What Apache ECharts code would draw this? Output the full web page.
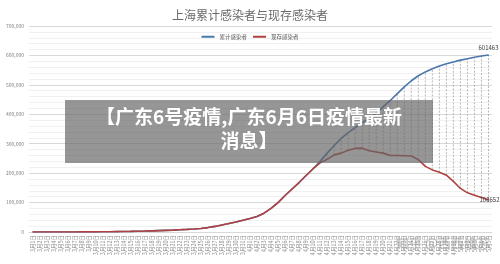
<!DOCTYPE html>
<html>
<head>
<meta charset="utf-8">
<script src="https://cdn.jsdelivr.net/npm/echarts@6/dist/echarts.min.js"></script>
<style>html,body{margin:0;padding:0;background:#fff}#c{width:500px;height:264px}</style>
</head>
<body>
<div id="c"></div>
<script>
// categories: 3月1日 .. 5月5日
const categories = [
  '3月1日','3月2日','3月3日','3月4日','3月5日','3月6日','3月7日','3月8日','3月9日','3月10日',
  '3月11日','3月12日','3月13日','3月14日','3月15日','3月16日','3月17日','3月18日','3月19日','3月20日',
  '3月21日','3月22日','3月23日','3月24日','3月25日','3月26日','3月27日','3月28日','3月29日','3月30日',
  '3月31日','4月1日','4月2日','4月3日','4月4日','4月5日','4月6日','4月7日','4月8日','4月9日',
  '4月10日','4月11日','4月12日','4月13日','4月14日','4月15日','4月16日','4月17日','4月18日','4月19日',
  '4月20日','4月21日','4月22日','4月23日','4月24日','4月25日','4月26日','4月27日','4月28日','4月29日',
  '4月30日','5月1日','5月2日','5月3日','5月4日','5月5日'
];
const cumulative = [
  0,0,0,0,0,100,200,300,400,500,
  700,900,1200,1600,2000,2600,3200,3900,4700,5600,
  6500,7600,8800,10200,12000,15000,19000,24000,29000,34000,
  40000,46000,53000,64000,80000,100000,124000,146000,168000,192000,
  215000,240000,268000,294000,318000,338000,355000,371000,387000,404000,
  426000,447000,470000,493000,514000,531000,544000,555000,564000,572000,
  578000,584000,589000,594000,598000,601463
];
const current = [
  0,0,0,0,0,100,200,300,400,500,
  700,900,1200,1600,2000,2600,3200,3900,4700,5600,
  6500,7600,8800,10200,12000,15000,19000,24000,29000,34000,
  40000,46000,53000,64000,80000,100000,124000,146000,168000,192000,
  215000,235000,247000,262000,268000,278000,284000,285000,276000,272000,
  268000,260000,260000,259000,258000,246000,223000,211000,203000,193000,
  172000,148000,133000,125000,117000,108652
];
const yTicks = [0,100000,200000,300000,400000,500000,600000,700000];
const titleText = '上海累计感染者与现存感染者';
const seriesNames = ['累计感染者','现存感染者'];
const overlayLines = ['【广东6号疫情,广东6月6日疫情最新', '消息】'];
const watermark = '知乎 @西西维苏';

const last = categories.length - 1;
const blueData = cumulative.map((v,i)=> i===last ? {value:v,symbol:'circle',symbolSize:1,
  label:{show:true,position:'top',distance:4,fontSize:6,color:'#404040'}} : v);
const redData = current.map((v,i)=> i===last ? {value:v,symbol:'circle',symbolSize:1,
  label:{show:true,position:'inside',offset:[1,0],fontSize:6,color:'#404040'}} : v);
const hiLo = categories.map((c,i)=>[i, current[i], cumulative[i]]);

const chart = echarts.init(document.getElementById('c'), null, {renderer:'canvas'});
const FONT = '"Noto Sans CJK SC","Noto Sans",sans-serif';
chart.setOption({
  animation:false,
  textStyle:{fontFamily:FONT},
  title:{text:titleText,left:'center',top:4,textStyle:{fontSize:12,fontWeight:'normal',color:'#6a6a6a',fontFamily:FONT}},
  legend:{top:29,left:'center',itemWidth:13,itemHeight:2,itemGap:6,icon:'rect',
    textStyle:{fontSize:5.5,color:'#595959'},data:seriesNames},
  grid:{left:29,right:8,top:26,bottom:32},
  xAxis:{type:'category',data:categories,boundaryGap:true,
    axisLine:{lineStyle:{color:'#d9d9d9'}},axisTick:{show:false},
    axisLabel:{interval:0,rotate:90,fontSize:5.5,color:'#8a8a8a',margin:3}},
  yAxis:{type:'value',min:yTicks[0],max:yTicks[yTicks.length-1],interval:100000,
    axisLine:{show:false},axisTick:{show:false},
    axisLabel:{fontSize:5,color:'#7f7f7f',margin:5},
    splitLine:{lineStyle:{color:'#d9d9d9',width:1}},
    minorTick:{show:false,splitNumber:5},
    minorSplitLine:{show:true,lineStyle:{color:'#f0f0f0',width:1}}},
  series:[
    {type:'custom',name:'hilo',silent:true,z:1,
      renderItem:function(params,api){
        const x=api.value(0);
        const a=api.coord([x,api.value(1)]);
        const b=api.coord([x,api.value(2)]);
        return {type:'line',shape:{x1:a[0],y1:a[1],x2:b[0],y2:b[1]},
          style:{stroke:'#a6a6a6',lineWidth:0.8,lineDash:[2,1.5]}};
      },
      encode:{x:0,y:[1,2]},data:hiLo},
    {type:'line',name:seriesNames[0],data:blueData,showSymbol:true,symbol:'none',
      lineStyle:{color:'#4a76ac',width:1.6},itemStyle:{color:'#4a76ac'},z:3},
    {type:'line',name:seriesNames[1],data:redData,showSymbol:true,symbol:'none',
      lineStyle:{color:'#b0413e',width:1.6},itemStyle:{color:'#b0413e'},z:4}
  ],
  graphic:[
    {type:'rect',z:100,shape:{x:65,y:100,width:368,height:63},style:{fill:'rgba(100,100,100,0.68)'}},
    {type:'text',z:101,x:249,y:117,style:{text:overlayLines[0],fill:'#fff',font:'bold 19px "Noto Sans CJK SC",sans-serif',align:'center',verticalAlign:'middle'}},
    {type:'text',z:101,x:249,y:141,style:{text:overlayLines[1],fill:'#fff',font:'bold 19px "Noto Sans CJK SC",sans-serif',align:'center',verticalAlign:'middle'}},
    {type:'text',z:101,x:490,y:243,style:{text:watermark,fill:'rgba(140,140,140,0.45)',font:'bold 13px "Noto Sans CJK SC",sans-serif',align:'right',verticalAlign:'middle'}}
  ]
});
</script>
</body>
</html>
